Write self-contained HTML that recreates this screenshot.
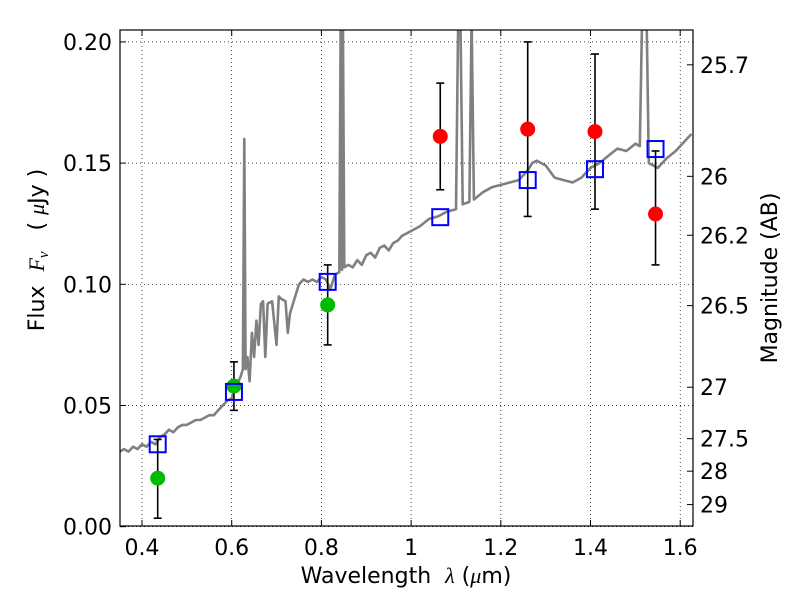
<!DOCTYPE html>
<html><head><meta charset="utf-8"><style>
body{margin:0;background:#fff;}
svg text{font-family:"DejaVu Sans","Liberation Sans",sans-serif;fill:#000;white-space:pre;}
</style></head><body>
<svg id="chart" width="800" height="600" xmlns="http://www.w3.org/2000/svg">
<defs><clipPath id="clip"><rect x="120" y="30" width="573" height="496"/></clipPath></defs>
<g id="grid"></g>
<g id="spec" clip-path="url(#clip)"></g>
<g id="marks"></g>
<rect x="120" y="30" width="573" height="496" fill="none" stroke="#000" stroke-width="1.2"/>
<g id="axes"></g>
<text x="406" y="583" font-size="22" text-anchor="middle">Wavelength  <tspan font-style="italic" font-family="Liberation Serif">λ</tspan> (<tspan font-style="italic" font-family="Liberation Serif">μ</tspan>m)</text>
<text transform="translate(44,250) rotate(-90)" font-size="22" text-anchor="middle">Flux  <tspan font-style="italic" font-family="Liberation Serif">F<tspan font-size="15" dy="4">ν</tspan></tspan><tspan dy="-4">   ( </tspan><tspan font-style="italic" font-family="Liberation Serif">μ</tspan>Jy )</text>
<text transform="translate(777,278) rotate(-90)" font-size="22" text-anchor="middle">Magnitude (AB)</text>
</svg>
<script>
const xTicks=[0.4,0.6,0.8,1.0,1.2,1.4,1.6];
const xTickLabels=["0.4","0.6","0.8","1","1.2","1.4","1.6"];
const yTicks=[0,0.05,0.10,0.15,0.20];
const yTickLabels=["0.00","0.05","0.10","0.15","0.20"];
const magTicks=[25.7,26,26.2,26.5,27,27.5,28,29];
const magLabels=["25.7","26","26.2","26.5","27","27.5","28","29"];
const bandWl=[0.435,0.605,0.814,1.065,1.26,1.41,1.545];
const obsFlux=[0.020,0.058,0.0915,0.161,0.164,0.163,0.129];
const errLow=[0.0035,0.048,0.075,0.139,0.128,0.131,0.108];
const errHigh=[0.036,0.068,0.108,0.183,0.2,0.195,0.155];
const obsColor=["#00bb00","#00bb00","#00bb00","#ff0000","#ff0000","#ff0000","#ff0000"];
const modelFlux=[0.034,0.0556,0.101,0.1277,0.143,0.1475,0.1558];
const specWl=[0.35,0.36,0.37,0.38,0.39,0.40,0.41,0.42,0.43,0.44,0.45,0.46,0.47,0.48,0.49,0.50,0.51,0.52,0.53,0.54,0.55,0.56,0.57,0.58,0.59,0.60,0.61,0.615,0.62,0.625,0.628,0.631,0.635,0.64,0.645,0.65,0.655,0.66,0.665,0.67,0.675,0.68,0.69,0.70,0.705,0.71,0.72,0.725,0.73,0.74,0.75,0.76,0.77,0.78,0.79,0.80,0.81,0.82,0.83,0.84,0.843,0.846,0.848,0.851,0.86,0.87,0.88,0.89,0.90,0.91,0.92,0.93,0.94,0.95,0.96,0.97,0.98,0.99,1.00,1.02,1.04,1.06,1.08,1.10,1.105,1.11,1.115,1.13,1.135,1.14,1.16,1.18,1.20,1.22,1.24,1.26,1.27,1.28,1.30,1.32,1.34,1.36,1.38,1.40,1.42,1.44,1.46,1.48,1.50,1.51,1.515,1.525,1.53,1.55,1.57,1.59,1.60,1.625];
const specFlux=[0.031,0.032,0.031,0.033,0.032,0.034,0.033,0.035,0.034,0.037,0.038,0.040,0.039,0.041,0.042,0.042,0.043,0.044,0.044,0.045,0.046,0.046,0.048,0.050,0.052,0.053,0.058,0.060,0.062,0.065,0.16,0.065,0.070,0.060,0.080,0.070,0.085,0.075,0.092,0.093,0.070,0.092,0.093,0.075,0.095,0.094,0.093,0.080,0.088,0.094,0.100,0.102,0.101,0.102,0.101,0.103,0.102,0.098,0.104,0.105,0.21,0.106,0.21,0.107,0.108,0.107,0.110,0.108,0.112,0.113,0.111,0.115,0.116,0.114,0.117,0.118,0.120,0.121,0.122,0.124,0.127,0.128,0.130,0.131,0.21,0.21,0.133,0.134,0.21,0.135,0.138,0.140,0.141,0.142,0.143,0.147,0.150,0.151,0.149,0.144,0.143,0.142,0.144,0.148,0.150,0.153,0.156,0.155,0.158,0.157,0.21,0.21,0.150,0.148,0.152,0.155,0.157,0.162];

const NS="http://www.w3.org/2000/svg";
const Y0=526.7,Ypx=2424;
function xs(l){return 142+(l-0.4)*448.5;}
function ys(f){return Y0-f*Ypx;}
function magToFlux(m){return Math.pow(10,(23.9-m)/2.5);}
function mk(tag,attrs,parent){const e=document.createElementNS(NS,tag);for(const k in attrs)e.setAttribute(k,attrs[k]);parent.appendChild(e);return e;}
const grid=document.getElementById('grid'),axes=document.getElementById('axes'),marks=document.getElementById('marks'),spec=document.getElementById('spec');
xTicks.forEach((t,i)=>{const x=xs(t);
 const g=mk('line',{x1:x,x2:x,y1:30,y2:526,stroke:'#000','stroke-width':0.7,'stroke-dasharray':'1,3'},grid);
 
 
 mk('line',{x1:x,x2:x,y1:526,y2:520,stroke:'#000'},axes);
 mk('line',{x1:x,x2:x,y1:30,y2:36,stroke:'#000'},axes);
 const tx=mk('text',{x:x,y:555,'font-size':22,'text-anchor':'middle'},axes);tx.textContent=xTickLabels[i];
 
 
});
yTicks.forEach((t,i)=>{const y=ys(t);
 const g=mk('line',{x1:120,x2:693,y1:y,y2:y,stroke:'#000','stroke-width':0.7,'stroke-dasharray':'1,3'},grid);
 
 
 mk('line',{x1:120,x2:126,y1:y,y2:y,stroke:'#000'},axes);
 const tx=mk('text',{x:112,y:y+8,'font-size':22,'text-anchor':'end'},axes);tx.textContent=yTickLabels[i];
 
 
});
magTicks.forEach((m,i)=>{const y=ys(magToFlux(m));
 mk('line',{x1:687,x2:693,y1:y,y2:y,stroke:'#000'},axes);
 const tx=mk('text',{x:700,y:y+8,'font-size':22},axes);tx.textContent=magLabels[i];
 
 
});
const pts=specWl.map((l,i)=>xs(l).toFixed(1)+','+ys(specFlux[i]).toFixed(1)).join(' ');
const pl=mk('polyline',{points:pts,fill:'none',stroke:'#808080','stroke-width':2.6,'stroke-linejoin':'round'},spec);


bandWl.forEach((l,i)=>{const x=xs(l);
 const e=mk('line',{x1:x,x2:x,y1:ys(errLow[i]),y2:ys(errHigh[i]),stroke:'#000','stroke-width':1.6},marks);
 
 
 mk('line',{x1:x-4,x2:x+4,y1:ys(errLow[i]),y2:ys(errLow[i]),stroke:'#000','stroke-width':1.6},marks);
 mk('line',{x1:x-4,x2:x+4,y1:ys(errHigh[i]),y2:ys(errHigh[i]),stroke:'#000','stroke-width':1.6},marks);
 const c=mk('circle',{cx:x,cy:ys(obsFlux[i]),r:7.5,fill:obsColor[i]},marks);
 
 
 const s=mk('rect',{x:x-8,y:ys(modelFlux[i])-8,width:16,height:16,fill:'none',stroke:'#0000ff','stroke-width':2},marks);
 
 
});
</script>
</body></html>
